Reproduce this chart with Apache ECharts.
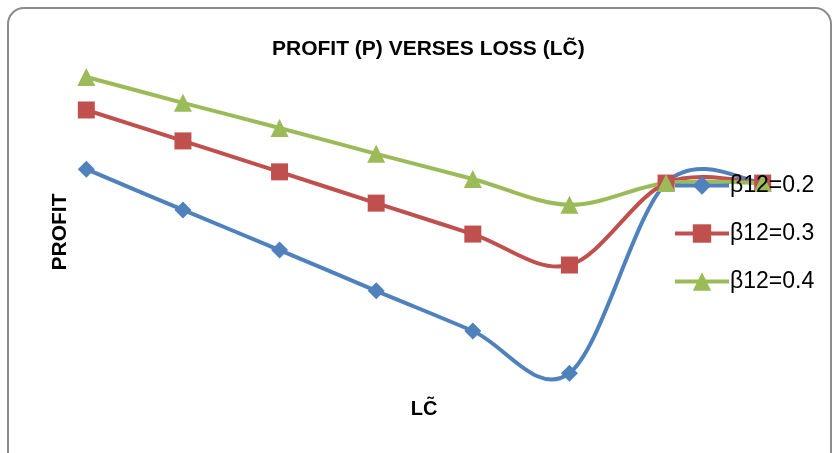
<!DOCTYPE html>
<html>
<head>
<meta charset="utf-8">
<script src="https://cdn.jsdelivr.net/npm/echarts@6/dist/echarts.min.js"></script>
<style>html,body{margin:0;padding:0;background:#fff}#c{width:833px;height:453px}</style>
</head>
<body>
<div id="c"></div>
<script>
const categories = ['1','2','3','4','5','6','7','8'];
const seriesNames = ['β12=0.2','β12=0.3','β12=0.4'];
const profit02 = [67.9, 55.9, 44.1, 32.1, 20.3, 7.9, 63.8, 63.8];
const profit03 = [85.3, 76.2, 67.1, 57.9, 48.8, 39.7, 63.8, 63.8];
const profit04 = [95.0, 87.4, 80.0, 72.4, 65.0, 57.4, 63.8, 63.8];
const titleText = 'PROFIT (P) VERSES LOSS (LC\u0303)';
const yName = 'PROFIT';
const xName = 'LC\u0303';

const colors = ['#4F81BD', '#C0504D', '#9BBB59'];
const symbols = ['diamond', 'rect', 'triangle'];
const sizes = [17, 17, 18];
const dataSets = [profit02, profit03, profit04];

function curveSeries(arr, color, z) {
  return {
    type: 'custom', silent: true, z: z,
    data: arr.map((v, i) => [i, v]),
    renderItem: function (params, api) {
      const i = params.dataIndex;
      const n = arr.length;
      if (i >= n - 1) return null;
      const P = j => { j = Math.max(0, Math.min(n - 1, j)); return api.coord([j, arr[j]]); };
      const p0 = P(i - 1), p1 = P(i), p2 = P(i + 1), p3 = P(i + 2);
      return {
        type: 'bezierCurve',
        shape: {
          x1: p1[0], y1: p1[1], x2: p2[0], y2: p2[1],
          cpx1: p1[0] + (p2[0] - p0[0]) / 6, cpy1: p1[1] + (p2[1] - p0[1]) / 6,
          cpx2: p2[0] - (p3[0] - p1[0]) / 6, cpy2: p2[1] - (p3[1] - p1[1]) / 6
        },
        style: { stroke: color, lineWidth: 4, fill: null, lineCap: 'round' }
      };
    }
  };
}

const chart = echarts.init(document.getElementById('c'));
chart.setOption({
  animation: false,
  title: {
    text: titleText, left: 267, top: 34,
    textStyle: { fontFamily: 'Liberation Sans', fontWeight: 'bold', fontSize: 21, color: '#000' }
  },
  legend: {
    orient: 'vertical', left: 668, top: 169, itemWidth: 54, itemHeight: 23, itemGap: 25, z: 20,
    lineStyle: { width: 4, opacity: 1 },
    textStyle: { fontFamily: 'Liberation Sans', fontSize: 23, color: '#000', padding: [0,0,0,-4] },
    data: seriesNames
  },
  grid: { left: 38, right: 22, top: 60, bottom: 53 },
  xAxis: { type: 'category', data: categories, boundaryGap: true, show: false },
  yAxis: { type: 'value', min: 0, max: 100, show: false },
  graphic: [
    { type: 'rect', shape: { x: 8, y: 8, width: 823, height: 460, r: 16 },
      style: { fill: 'none', stroke: '#8c8c8c', lineWidth: 2 }, z: -1 },
    { type: 'text', x: 60, y: 232, rotation: Math.PI / 2,
      style: { text: yName, fontFamily: 'Liberation Sans', fontWeight: 'bold', fontSize: 21, fill: '#000', align: 'center', verticalAlign: 'middle' } },
    { type: 'text', x: 424, y: 409,
      style: { text: xName, fontFamily: 'Liberation Sans', fontWeight: 'bold', fontSize: 20, fill: '#000', align: 'center', verticalAlign: 'middle' } }
  ],
  series: dataSets.map((d, i) => curveSeries(d, colors[i], 2 + i)).concat(
    seriesNames.map((n, i) => ({
      name: n, type: 'line', data: dataSets[i],
      symbol: symbols[i], symbolSize: sizes[i], showAllSymbol: true,
      lineStyle: { width: 4, color: colors[i], opacity: 0 },
      itemStyle: { color: colors[i] },
      z: 5 + i
    })))
});
</script>
</body>
</html>
